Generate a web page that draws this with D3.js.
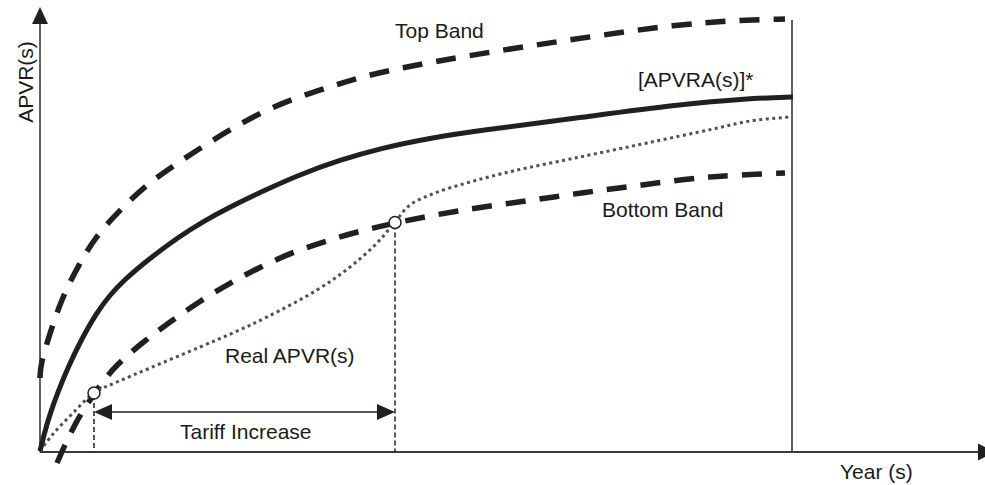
<!DOCTYPE html>
<html>
<head>
<meta charset="utf-8">
<script src="https://cdn.jsdelivr.net/npm/d3@7"></script>
<style>
  html, body { margin: 0; padding: 0; background: #fff; }
  svg { display: block; }
  text { font-family: "Liberation Sans", Arial, Helvetica, sans-serif; fill: #1a1a1a; }
</style>
</head>
<body>
<svg id="chart" width="985" height="485"></svg>
<script>
// ---- data (schematic units) ----
const topBandX    = [0, 0.125, 2.75, 5.5, 9.5, 14, 20, 26.25, 33.25, 40.5, 47.75, 55.5, 63.75, 72, 80.25, 90, 106.5, 123.75, 140.75, 158.25, 175.25, 186.25];
const topBandY    = [18.5, 22, 30.5, 38.5, 46.5, 54, 60.5, 66.5, 71.5, 76.25, 80.75, 85, 88.5, 91.1, 93.75, 96, 99, 101.75, 104.25, 106.75, 108, 108.25];

const apvraX      = [0, 1.25, 2.5, 4.5, 7, 10, 14.25, 17.5, 20.75, 27, 35, 40.75, 46.75, 55, 65, 75, 85, 97.5, 110, 135, 160, 176.75, 188.25];
const apvraY      = [0.25, 5.25, 9.5, 15.1, 21.1, 27.5, 35, 39.25, 42.75, 48.1, 54, 57.6, 60.9, 64.9, 69.4, 73, 75.9, 78.5, 80.4, 83.6, 86.9, 88.4, 88.75];

const bottomBandX = [4.25, 8.75, 15, 19, 25.75, 32.5, 40, 47.5, 55, 63.25, 71.5, 80, 88.75, 97.25, 105.75, 114.25, 123.25, 131.75, 140.5, 149, 157.75, 166.5, 174.75, 186.25];
const bottomBandY = [-2.75, 7.5, 16.75, 21.75, 27.5, 32.5, 37.75, 42.25, 46.25, 50, 52.75, 55.25, 57.25, 59, 60.5, 61.75, 63, 64.25, 65.5, 66.5, 67.75, 68.75, 69.25, 69.75];

const realX       = [0, 3.25, 8, 13.5, 19.25, 27.5, 40, 48.75, 56.75, 69.25, 77.5, 84.25, 88.75, 92.5, 98.75, 107.5, 118.25, 135, 151.75, 168.25, 177.5, 187.5];
const realY       = [0.25, 4.5, 9.5, 14.75, 17.5, 21, 26.25, 30, 33.75, 40.5, 46.25, 52.25, 57.5, 61.75, 64.75, 67.5, 70.25, 73.75, 77.25, 80.75, 82.75, 83.75];

const markerX     = [13.5, 88.75];   // tariff period start / end (intersection points)
const markerY     = [14.75, 57.4];
const tariffLevel = 10;               // height of the "Tariff Increase" arrow
const horizonX    = 188;              // end-of-period vertical line

const labels = ["Top Band", "[APVRA(s)]*", "Bottom Band", "Real APVR(s)", "Tariff Increase", "Year (s)", "APVR(s)"];

// ---- scales ----
const x = d3.scaleLinear().domain([0, 188]).range([40, 792]);
const y = d3.scaleLinear().domain([0, 100]).range([452, 52]);

const svg = d3.select("#chart");
const ink = "#231f20";
const axisInk = "#3a3a3a";

const zip = (xs, ys) => xs.map((v, i) => [v, ys[i]]);
const smooth = d3.line().x(d => x(d[0])).y(d => y(d[1])).curve(d3.curveBasis);
const line = d3.line().x(d => x(d[0])).y(d => y(d[1])).curve(d3.curveCatmullRom.alpha(0.5));

// ---- axes ----
const yTop = 111.25, xEnd = 238.75;
svg.append("line").attr("x1", x(0)).attr("x2", x(0)).attr("y1", y(0)).attr("y2", y(yTop) + 16)
  .attr("stroke", axisInk).attr("stroke-width", 1.6);
svg.append("path")
  .attr("d", `M${x(0)},${y(yTop)} L${x(0) - 8},${y(yTop) + 17} L${x(0) + 8},${y(yTop) + 17} Z`)
  .attr("fill", ink);

svg.append("line").attr("x1", x(0)).attr("x2", x(xEnd) - 16).attr("y1", y(0)).attr("y2", y(0))
  .attr("stroke", axisInk).attr("stroke-width", 2);
svg.append("path")
  .attr("d", `M${x(xEnd)},${y(0)} L${x(xEnd) - 17},${y(0) - 8.5} L${x(xEnd) - 17},${y(0) + 8.5} Z`)
  .attr("fill", ink);

// vertical horizon line
svg.append("line").attr("x1", x(horizonX)).attr("x2", x(horizonX)).attr("y1", y(108)).attr("y2", y(0))
  .attr("stroke", axisInk).attr("stroke-width", 1.6);

// ---- curves ----
svg.append("path").datum(zip(topBandX, topBandY)).attr("d", smooth)
  .attr("fill", "none").attr("stroke", ink).attr("stroke-width", 5.5).attr("stroke-dasharray", "20,14");

svg.append("path").datum(zip(bottomBandX, bottomBandY)).attr("d", smooth)
  .attr("fill", "none").attr("stroke", ink).attr("stroke-width", 5.5).attr("stroke-dasharray", "20,14");

svg.append("path").datum(zip(realX, realY)).attr("d", line)
  .attr("fill", "none").attr("stroke", "#505050").attr("stroke-width", 3).attr("stroke-dasharray", "3,3.5");

svg.append("path").datum(zip(apvraX, apvraY)).attr("d", smooth)
  .attr("fill", "none").attr("stroke", ink).attr("stroke-width", 5);

// ---- tariff period guides ----
markerX.forEach((mx, i) => {
  svg.append("line").attr("x1", x(mx)).attr("x2", x(mx)).attr("y1", y(markerY[i]) - 6).attr("y2", y(0))
    .attr("stroke", ink).attr("stroke-width", 1.5).attr("stroke-dasharray", "5,3");
});

const ax1 = x(markerX[0]), ax2 = x(markerX[1]), ay = y(tariffLevel);
svg.append("line").attr("x1", ax1 + 17).attr("x2", ax2 - 17).attr("y1", ay).attr("y2", ay)
  .attr("stroke", ink).attr("stroke-width", 1.6);
svg.append("path").attr("d", `M${ax1},${ay} L${ax1 + 18},${ay - 8} L${ax1 + 18},${ay + 8} Z`).attr("fill", ink);
svg.append("path").attr("d", `M${ax2},${ay} L${ax2 - 18},${ay - 8} L${ax2 - 18},${ay + 8} Z`).attr("fill", ink);

markerX.forEach((mx, i) => {
  svg.append("circle").attr("cx", x(mx)).attr("cy", y(markerY[i])).attr("r", 6)
    .attr("fill", "#fff").attr("stroke", ink).attr("stroke-width", 1.5);
});

// ---- labels ----
const fs = 21;
const addText = (t, dx, dy, anchor) => svg.append("text").attr("x", x(dx)).attr("y", y(dy))
  .attr("font-size", fs).attr("text-anchor", anchor || "start").text(t);

addText(labels[0], 88.75, 103.5);
addText(labels[1], 149.5, 91.25);
addText(labels[2], 140.5, 58.75);
addText(labels[3], 46.25, 22.25);
addText(labels[4], 35, 3.25);
addText(labels[5], 200, -6.75);
svg.append("text")
  .attr("transform", `translate(${x(-1.75)},${y(92.5)}) rotate(-90)`)
  .attr("font-size", fs).attr("text-anchor", "middle").text(labels[6]);
</script>
</body>
</html>
